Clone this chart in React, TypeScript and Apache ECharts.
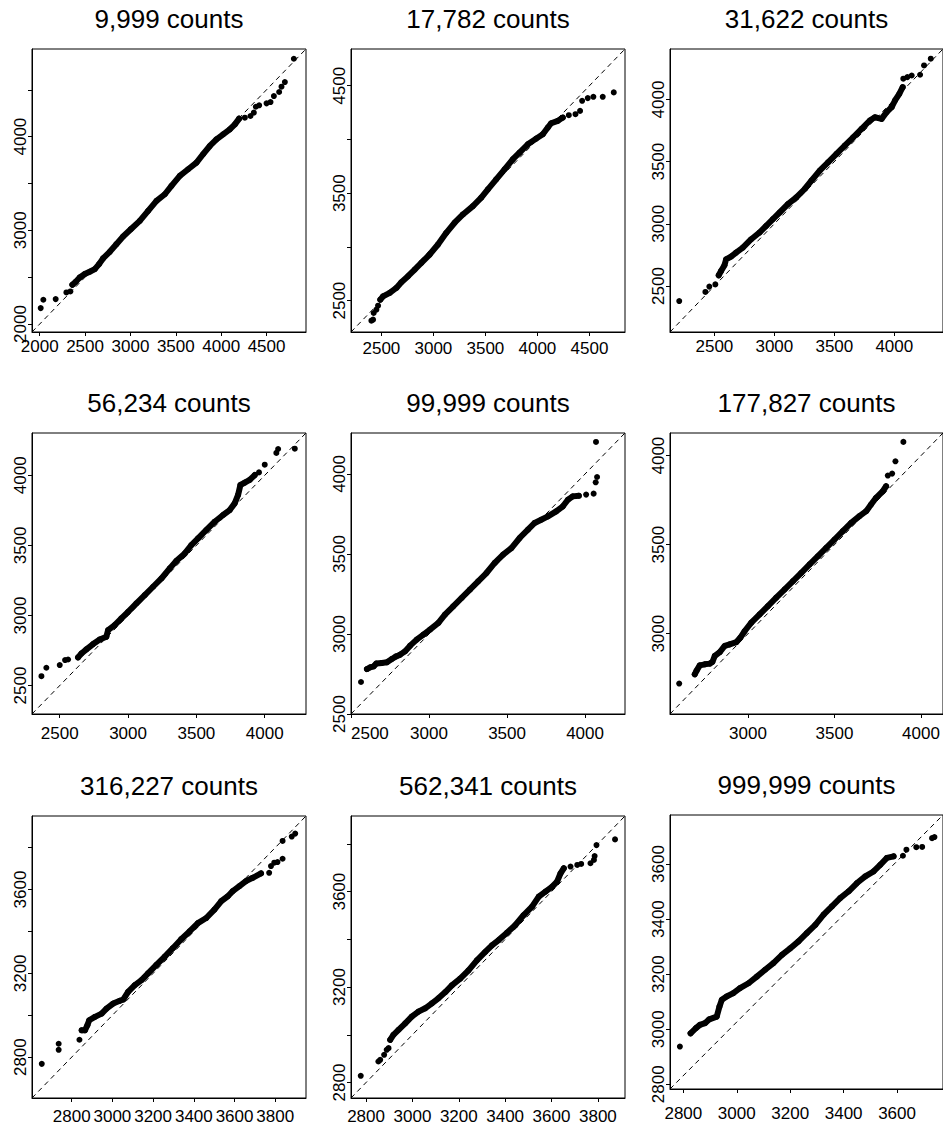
import React, { useEffect, useRef } from "react";
import * as echarts from "echarts";

const titles = [
  "9,999 counts", "17,782 counts", "31,622 counts",
  "56,234 counts", "99,999 counts", "177,827 counts",
  "316,227 counts", "562,341 counts", "999,999 counts",
];

const limitsX = [
  [1915, 4935], [2208, 4842], [2130, 4406],
  [2297, 4302], [2500, 4256], [2549, 4127],
  [2605, 3951], [2735, 3917], [2750, 3772],
];
const limitsY = [
  [1915, 4935], [2208, 4842], [2130, 4406],
  [2297, 4302], [2500, 4256], [2549, 4127],
  [2605, 3951], [2735, 3917], [2783, 3778],
];

const xTicks = [
  [2000, 2500, 3000, 3500, 4000, 4500], [2500, 3000, 3500, 4000, 4500], [2500, 3000, 3500, 4000],
  [2500, 3000, 3500, 4000], [2500, 3000, 3500, 4000], [3000, 3500, 4000],
  [2800, 3000, 3200, 3400, 3600, 3800], [2800, 3000, 3200, 3400, 3600, 3800], [2800, 3000, 3200, 3400, 3600],
];
const xLabels = xTicks;
const yTicks = [
  [2000, 2500, 3000, 3500, 4000, 4500], [2500, 3000, 3500, 4000, 4500], [2500, 3000, 3500, 4000],
  [2500, 3000, 3500, 4000], [2500, 3000, 3500, 4000], [3000, 3500, 4000],
  [2800, 3000, 3200, 3400, 3600, 3800], [2800, 3000, 3200, 3400, 3600, 3800], [2800, 3000, 3200, 3400, 3600],
];
const yLabels = [
  [2000, 3000, 4000], [2500, 3500, 4500], [2500, 3000, 3500, 4000],
  [2500, 3000, 3500, 4000], [2500, 3000, 3500, 4000], [3000, 3500, 4000],
  [2800, 3200, 3600], [2800, 3200, 3600], [2800, 3000, 3200, 3400, 3600],
];

const band1 = [[2360,2419],[2397,2451],[2441,2497],[2496,2533],[2551,2558],[2607,2586],[2654,2639],[2698,2700],[2772,2771],[2845,2852],[2919,2934],[3004,3012],[3103,3101],[3195,3208],[3287,3314],[3379,3385],[3452,3474],[3544,3581],[3636,3652],[3728,3723],[3801,3812],[3875,3900],[3948,3971],[4022,4025],[4095,4078],[4151,4131],[4198,4192]];
const sparse1 = [[2011,2170],[2040,2259],[2176,2266],[2294,2337],[2338,2348],[4261,4202],[4323,4220],[4360,4256],[4382,4319],[4419,4334],[4500,4355],[4544,4369],[4581,4433],[4639,4476],[4665,4533],[4702,4582],[4801,4831]];

const band2 = [[2490,2509],[2516,2540],[2580,2572],[2644,2618],[2692,2671],[2756,2727],[2820,2789],[2884,2851],[2964,2929],[3044,3022],[3124,3131],[3204,3225],[3284,3302],[3380,3380],[3460,3458],[3524,3536],[3604,3629],[3684,3722],[3764,3816],[3828,3878],[3908,3955],[3988,4008],[4052,4049],[4100,4111],[4132,4151],[4196,4173],[4244,4204]];
const sparse2 = [[2404,2313],[2420,2323],[2426,2385],[2452,2416],[2468,2453],[4302,4226],[4366,4235],[4410,4266],[4430,4360],[4484,4385],[4538,4397],[4628,4397],[4734,4438]];

const band3 = [[2536,2586],[2556,2621],[2584,2667],[2598,2715],[2639,2737],[2681,2769],[2737,2809],[2807,2876],[2876,2930],[2932,2984],[2988,3038],[3044,3091],[3113,3159],[3183,3212],[3253,3280],[3309,3347],[3378,3427],[3448,3495],[3518,3562],[3587,3629],[3657,3696],[3727,3763],[3796,3831],[3838,3857],[3894,3844],[3936,3898],[3978,3938],[4006,3992],[4042,4046],[4070,4099]];
const sparse3 = [[2207,2379],[2425,2452],[2458,2495],[2508,2513],[4075,4167],[4109,4180],[4145,4193],[4215,4199],[4248,4274],[4304,4328]];

const band4 = [[2634,2701],[2659,2729],[2695,2758],[2744,2796],[2793,2829],[2841,2848],[2854,2896],[2902,2931],[2951,2979],[3000,3026],[3061,3086],[3122,3145],[3183,3205],[3244,3264],[3305,3336],[3354,3390],[3415,3443],[3463,3502],[3512,3550],[3573,3610],[3634,3669],[3695,3717],[3744,3752],[3780,3800],[3805,3860],[3822,3931],[3854,3948],[3890,3967],[3927,4002]];
const sparse4 = [[2366,2567],[2402,2627],[2500,2646],[2539,2682],[2561,2686],[3958,4021],[4000,4076],[4085,4160],[4098,4188],[4220,4190]];

const band5 = [[2602,2781],[2623,2792],[2645,2798],[2662,2815],[2698,2819],[2730,2823],[2762,2844],[2789,2860],[2815,2871],[2847,2892],[2879,2927],[2921,2965],[2964,2996],[3006,3027],[3060,3069],[3102,3121],[3155,3173],[3209,3225],[3262,3277],[3315,3329],[3368,3381],[3421,3444],[3475,3496],[3528,3537],[3581,3600],[3634,3652],[3677,3694],[3719,3714],[3762,3735],[3815,3766],[3858,3798],[3890,3839],[3921,3860],[3960,3864]];
const sparse5 = [[2564,2700],[4007,3871],[4055,3877],[4068,3948],[4077,3981],[4070,4200]];

const band6 = [[2692,2772],[2702,2791],[2721,2822],[2750,2828],[2779,2832],[2794,2841],[2808,2875],[2837,2897],[2865,2931],[2894,2940],[2933,2953],[2956,2978],[2981,3015],[3019,3062],[3067,3108],[3115,3155],[3163,3202],[3212,3249],[3260,3295],[3308,3342],[3356,3389],[3404,3435],[3452,3482],[3500,3529],[3548,3576],[3596,3622],[3644,3660],[3683,3688],[3711,3725],[3740,3763],[3779,3800],[3798,3828]];
const sparse6 = [[2602,2720],[3808,3888],[3833,3899],[3852,3968],[3898,4077]];

const band7 = [[2849,2928],[2865,2928],[2877,2952],[2886,2976],[2914,2992],[2947,3008],[2971,3032],[3004,3056],[3036,3069],[3053,3075],[3077,3112],[3110,3144],[3143,3168],[3175,3200],[3216,3240],[3257,3280],[3297,3320],[3338,3363],[3379,3400],[3420,3440],[3461,3464],[3501,3504],[3534,3544],[3567,3568],[3591,3592],[3624,3616],[3656,3640],[3689,3656],[3730,3677]];
const sparse7 = [[2653,2768],[2736,2864],[2736,2835],[2838,2883],[3770,3680],[3779,3712],[3795,3728],[3811,3731],[3836,3747],[3836,3832],[3881,3853],[3898,3867]];

const band8 = [[2904,2979],[2918,3000],[2940,3021],[2969,3048],[2997,3076],[3026,3097],[3055,3111],[3084,3132],[3112,3153],[3142,3179],[3170,3207],[3206,3235],[3242,3270],[3278,3312],[3314,3347],[3343,3375],[3372,3397],[3408,3428],[3444,3460],[3480,3502],[3516,3537],[3545,3579],[3574,3600],[3603,3621],[3624,3642],[3639,3677],[3653,3698]];
const sparse8 = [[2777,2828],[2853,2888],[2861,2895],[2878,2916],[2889,2937],[2897,2944],[3682,3705],[3711,3712],[3728,3716],[3768,3719],[3783,3733],[3786,3749],[3794,3795],[3874,3819]];

const band9 = [[2827,2985],[2847,3004],[2862,3016],[2881,3022],[2897,3036],[2925,3046],[2935,3082],[2944,3107],[2962,3119],[2987,3131],[3012,3149],[3044,3167],[3075,3191],[3106,3216],[3137,3240],[3169,3270],[3200,3294],[3231,3319],[3262,3349],[3294,3379],[3325,3416],[3356,3446],[3387,3476],[3419,3501],[3450,3531],[3481,3555],[3512,3573],[3537,3597],[3562,3622],[3587,3628]];
const sparse9 = [[2787,2937],[3622,3630],[3635,3652],[3672,3661],[3694,3662],[3731,3694],[3740,3698]];

const bands = [band1, band2, band3, band4, band5, band6, band7, band8, band9];
const sparses = [sparse1, sparse2, sparse3, sparse4, sparse5, sparse6, sparse7, sparse8, sparse9];

// layout: [left, top, width, height]
const boxes = [
  [32, 49, 274, 283], [351, 49, 274, 283], [670, 49, 273, 283],
  [32, 433, 274, 281], [351, 433, 274, 281], [670, 433, 273, 281],
  [32, 816, 274, 282], [351, 816, 274, 282], [670, 815, 273, 274],
];
const xLabelMargins = [6, 8, 6, 11, 11, 11, 10, 10, 16];

const FONT = "'Liberation Sans', Arial, Helvetica, sans-serif";
const plain = (v: number) => String(Math.round(v));

export default function App() {
  const ref = useRef<HTMLDivElement>(null);
  useEffect(() => {
    if (!ref.current) return;
    const chart = echarts.init(ref.current, null, { renderer: "svg" });
    const grid: any[] = [];
    const xAxis: any[] = [];
    const yAxis: any[] = [];
    const series: any[] = [];
    const graphic: any[] = [];
    for (let i = 0; i < 9; i++) {
      const [l, t, w, h] = boxes[i];
      grid.push({
        left: l, top: t, width: w, height: h, show: true,
        borderColor: "#000", borderWidth: 1, backgroundColor: "transparent",
        containLabel: false, outerBoundsMode: "none",
      });
      xAxis.push({
        type: "value", gridIndex: i, min: limitsX[i][0], max: limitsX[i][1],
        axisLine: { show: true, onZero: false, lineStyle: { color: "#000", width: 1 } },
        axisTick: { show: true, inside: false, length: 4, customValues: xTicks[i], lineStyle: { color: "#000", width: 1 } },
        axisLabel: {
          show: true, customValues: xLabels[i], fontSize: 17, color: "#000", margin: xLabelMargins[i],
          fontFamily: FONT, formatter: plain, showMinLabel: true, showMaxLabel: true,
          hideOverlap: false, alignMinLabel: i === 4 ? "left" : undefined,
        },
        splitLine: { show: false },
      });
      yAxis.push({
        type: "value", gridIndex: i, min: limitsY[i][0], max: limitsY[i][1],
        axisLine: { show: true, onZero: false, lineStyle: { color: "#000", width: 1 } },
        axisTick: { show: true, inside: false, length: 4, customValues: yTicks[i], lineStyle: { color: "#000", width: 1 } },
        axisLabel: {
          show: true, customValues: yLabels[i], fontSize: 17, color: "#000", margin: 3,
          rotate: 90, fontFamily: FONT, formatter: plain, showMinLabel: true, showMaxLabel: true,
          hideOverlap: false,
        },
        splitLine: { show: false },
      });
      series.push({
        type: "line", xAxisIndex: i, yAxisIndex: i, silent: true, z: 1,
        data: [[limitsX[i][0], limitsY[i][0]], [limitsX[i][1], limitsY[i][1]]],
        symbol: "none", lineStyle: { color: "#000", width: 1, type: [5, 4] },
      });
      series.push({
        type: "line", xAxisIndex: i, yAxisIndex: i, silent: true, z: 2,
        data: bands[i], symbol: "none", showSymbol: false,
        lineStyle: { color: "#000", width: 6, cap: "round", join: "round", opacity: 1 },
      });
      series.push({
        type: "scatter", xAxisIndex: i, yAxisIndex: i, silent: true, z: 3,
        data: [...bands[i], ...sparses[i]], symbol: "circle", symbolSize: 6,
        itemStyle: { color: "#000", opacity: 1 },
      });
      graphic.push({
        type: "text", x: l + w / 2, y: t - 30, silent: true,
        style: {
          text: titles[i], fontSize: 26, fill: "#000", fontFamily: FONT,
          align: "center", verticalAlign: "middle",
          textAlign: "center", textVerticalAlign: "middle",
        },
      });
    }
    chart.setOption({
      animation: false,
      backgroundColor: "#fff",
      grid, xAxis, yAxis, series, graphic,
    });
    return () => chart.dispose();
  }, []);
  return (
    <div
      ref={ref}
      style={{ position: "absolute", left: 0, top: 0, width: 943, height: 1130, background: "#fff" }}
    />
  );
}
